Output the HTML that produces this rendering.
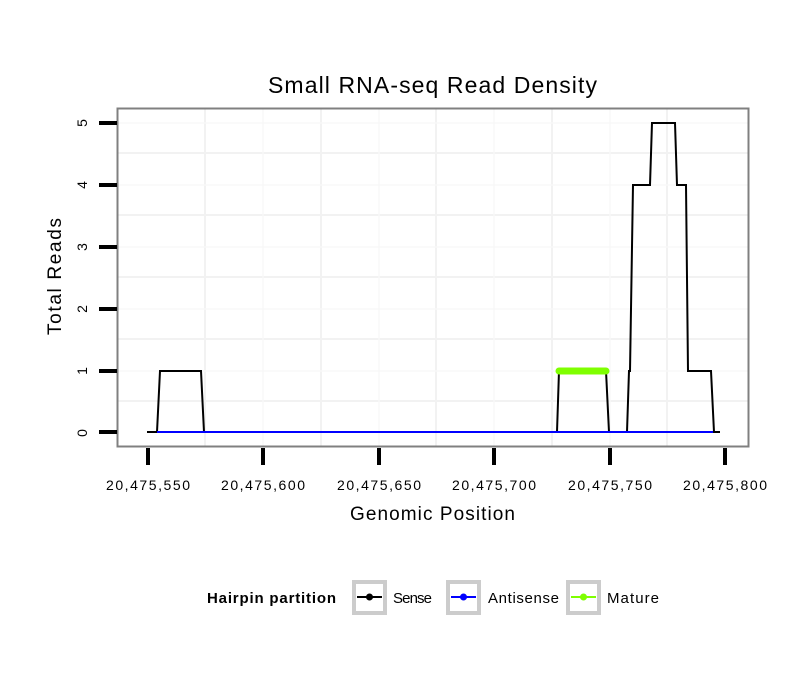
<!DOCTYPE html>
<html><head><style>body{margin:0;background:#fff}svg{display:block}</style></head><body>
<svg width="810" height="690" viewBox="0 0 810 690" font-family="Liberation Sans, sans-serif">
<rect width="810" height="690" fill="#fff"/>
<g stroke="#f2f2f2" stroke-width="2">
<line x1="118" x2="749" y1="153" y2="153"/><line x1="118" x2="749" y1="215" y2="215"/><line x1="118" x2="749" y1="277" y2="277"/><line x1="118" x2="749" y1="339" y2="339"/><line x1="118" x2="749" y1="401" y2="401"/>
<line y1="109" y2="447" x1="205" x2="205"/><line y1="109" y2="447" x1="321" x2="321"/><line y1="109" y2="447" x1="436" x2="436"/><line y1="109" y2="447" x1="552" x2="552"/><line y1="109" y2="447" x1="667" x2="667"/>
</g>
<g stroke="#f8f8f8" stroke-width="1.5">
<line x1="118" x2="749" y1="123" y2="123"/><line x1="118" x2="749" y1="185" y2="185"/><line x1="118" x2="749" y1="247" y2="247"/><line x1="118" x2="749" y1="309" y2="309"/><line x1="118" x2="749" y1="371" y2="371"/>
<line y1="109" y2="447" x1="263" x2="263"/><line y1="109" y2="447" x1="379" x2="379"/><line y1="109" y2="447" x1="494" x2="494"/><line y1="109" y2="447" x1="610" x2="610"/>
</g>
<polyline fill="none" stroke="#000" stroke-width="2" points="147,432 157,432 160,371 201,371 204,432 557,432 559,371 606,371 609,432 627,432 629,371 630,371 633,185 650,185 652,123 675,123 677,185 686,185 688,371 711,371 714,432 720,432"/>
<line x1="157" x2="713" y1="432" y2="432" stroke="#0000ff" stroke-width="2"/>
<line x1="559" x2="606" y1="371" y2="371" stroke="#7fff00" stroke-width="7" stroke-linecap="round"/>
<rect x="117.5" y="108.5" width="631" height="338" fill="none" stroke="#808080" stroke-width="2"/>
<g stroke="#000" stroke-width="4">
<line x1="99" x2="117" y1="123" y2="123"/><line x1="99" x2="117" y1="185" y2="185"/><line x1="99" x2="117" y1="247" y2="247"/><line x1="99" x2="117" y1="309" y2="309"/><line x1="99" x2="117" y1="371" y2="371"/><line x1="99" x2="117" y1="432" y2="432"/>
<line x1="148" x2="148" y1="448" y2="465"/><line x1="263" x2="263" y1="448" y2="465"/><line x1="379" x2="379" y1="448" y2="465"/><line x1="494" x2="494" y1="448" y2="465"/><line x1="610" x2="610" y1="448" y2="465"/><line x1="725" x2="725" y1="448" y2="465"/>
</g>
<g font-size="14" text-anchor="middle">
<text transform="translate(87,123) rotate(-90)">5</text><text transform="translate(87,185) rotate(-90)">4</text><text transform="translate(87,247) rotate(-90)">3</text><text transform="translate(87,309) rotate(-90)">2</text><text transform="translate(87,371) rotate(-90)">1</text><text transform="translate(87,433) rotate(-90)">0</text>
</g>
<g font-size="14">
<text x="106" y="490" textLength="84">20,475,550</text><text x="221" y="490" textLength="84">20,475,600</text><text x="337" y="490" textLength="84">20,475,650</text><text x="452" y="490" textLength="84">20,475,700</text><text x="568" y="490" textLength="84">20,475,750</text><text x="683" y="490" textLength="84">20,475,800</text>
</g>
<text x="268" y="93" font-size="23" textLength="329">Small RNA-seq Read Density</text>
<text x="350" y="520" font-size="19" textLength="165">Genomic Position</text>
<text transform="translate(61,335) rotate(-90)" font-size="19" textLength="117">Total Reads</text>
<text x="207" y="603" font-size="15" font-weight="bold" textLength="129">Hairpin partition</text>
<g stroke="#ccc" stroke-width="4" fill="#fff">
<rect x="354" y="582" width="31" height="31"/><rect x="448" y="582" width="31" height="31"/><rect x="568" y="582" width="31" height="31"/>
</g>
<g stroke-width="2"><line x1="357" x2="382" y1="597" y2="597" stroke="#000"/><line x1="451" x2="476" y1="597" y2="597" stroke="#00f"/><line x1="571" x2="596" y1="597" y2="597" stroke="#7fff00"/></g>
<circle cx="369.5" cy="597" r="3.5" fill="#000"/><circle cx="463.5" cy="597" r="3.5" fill="#00f"/><circle cx="583.5" cy="597" r="3.5" fill="#7fff00"/>
<g font-size="15"><text x="393" y="603" textLength="39">Sense</text><text x="488" y="603" textLength="71">Antisense</text><text x="607" y="603" textLength="52">Mature</text></g>
</svg>
</body></html>
